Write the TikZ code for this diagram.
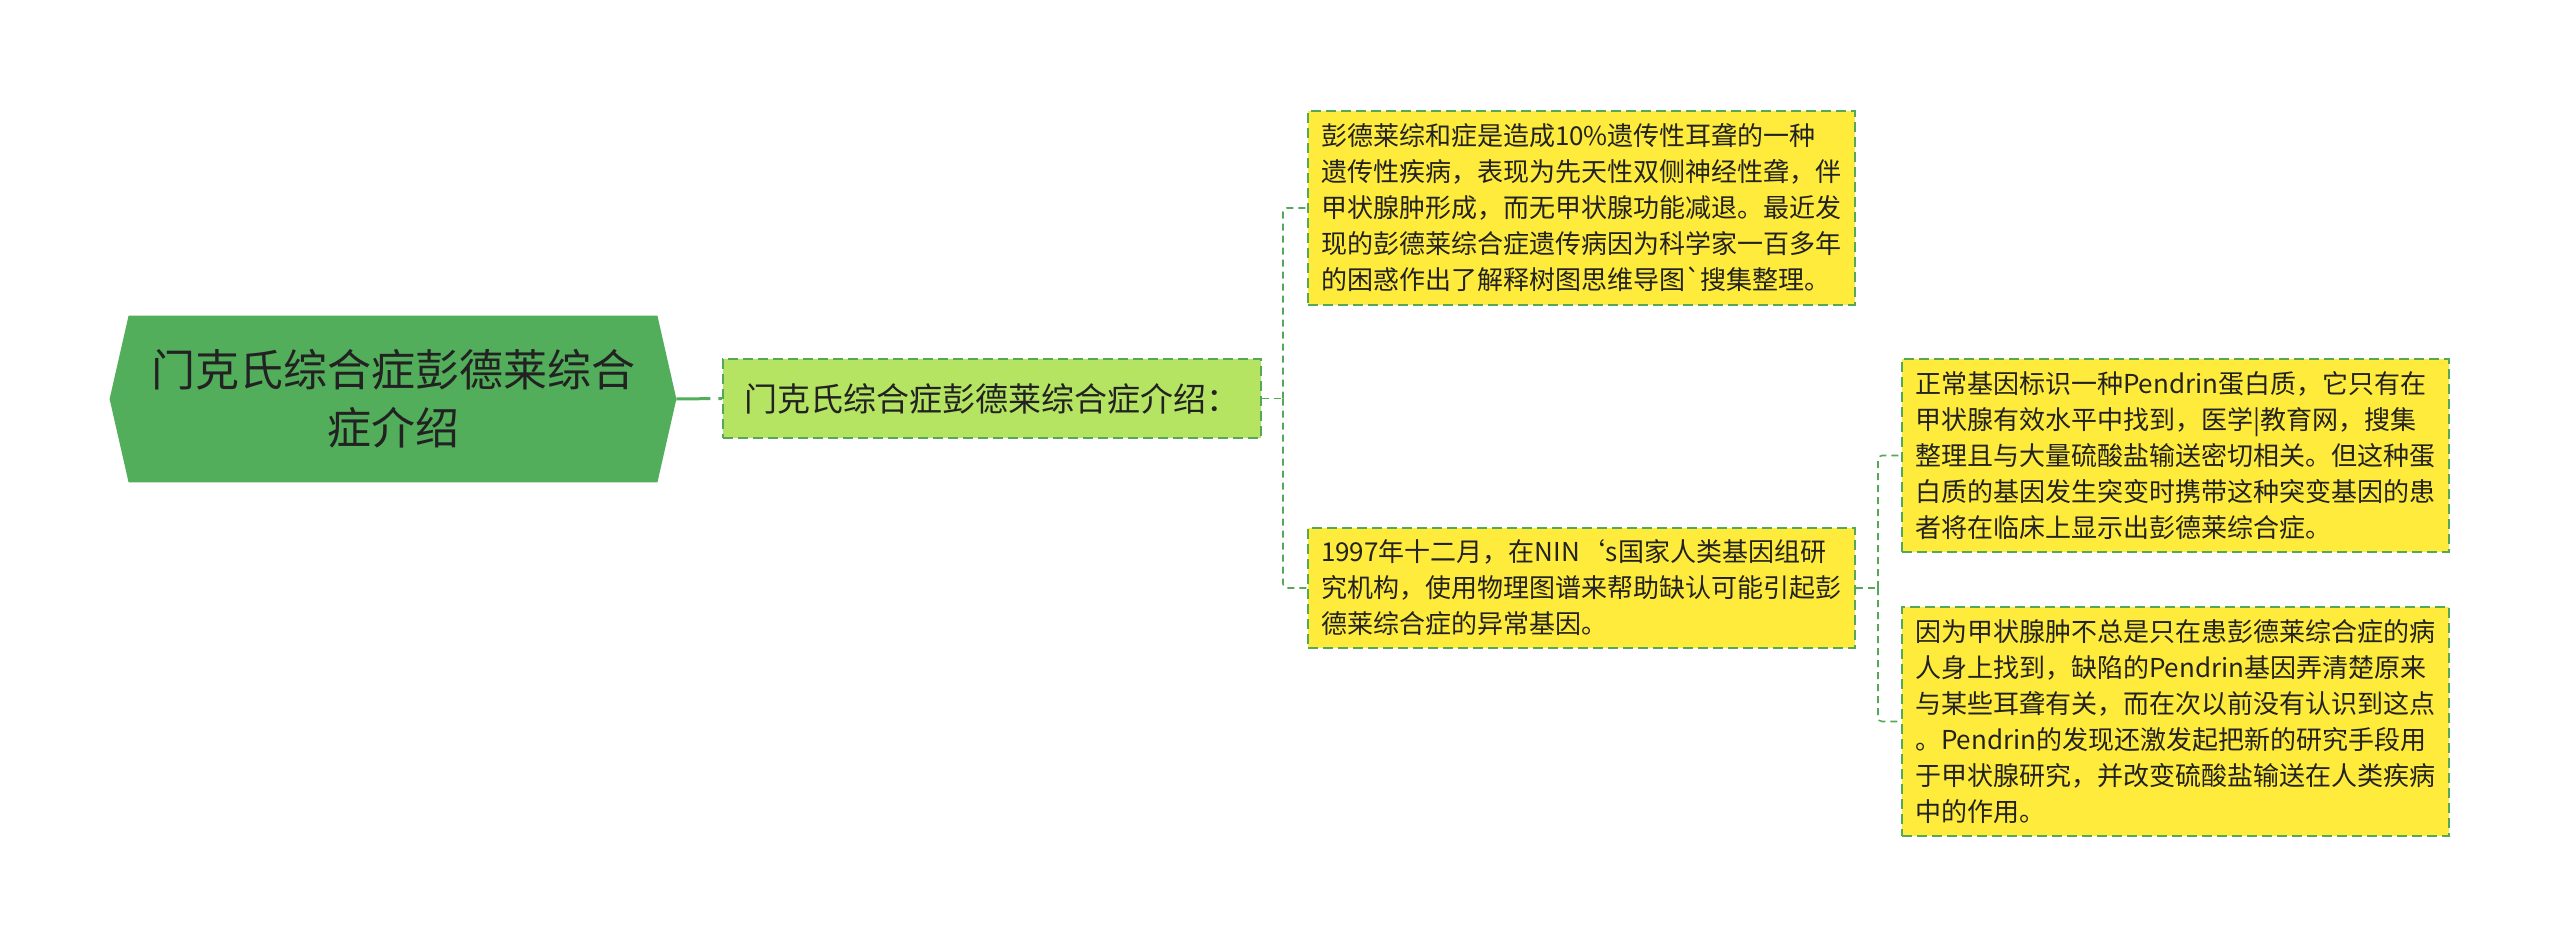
\documentclass[tikz,border=0pt]{standalone}
\usepackage{fontspec}
\setmainfont{Noto Sans CJK SC}
\usetikzlibrary{backgrounds}
\definecolor{mapRootGreen}{RGB}{83,174,91}
\definecolor{mapLimeGreen}{RGB}{181,228,98}
\definecolor{mapYellow}{RGB}{255,235,59}
\definecolor{mapLineGreen}{RGB}{84,168,88}
\definecolor{mapText}{RGB}{34,34,34}

\begin{document}
\begin{tikzpicture}[
  x=0.5pt, y=-0.5pt,
  topic/.style={
    inner sep=0pt,
    minimum width=264pt,
    minimum height=83pt,
    align=center,
    text=mapText,
    font=\fontsize{22pt}{29pt}\selectfont
  },
  subtopic/.style={
    draw=mapLineGreen, fill=mapLimeGreen,
    line width=0.9pt, dash pattern=on 5pt off 2.5pt,
    minimum width=269pt, minimum height=39.5pt,
    inner sep=0pt, text=mapText,
    font=\fontsize{16.5pt}{20pt}\selectfont
  },
  leaf/.style={
    draw=mapLineGreen, fill=mapYellow,
    line width=0.9pt, dash pattern=on 5pt off 2.5pt,
    text width=260.5pt, inner xsep=6.5pt, inner ysep=0pt,
    align=left, text=mapText,
    font=\fontsize{13pt}{18pt}\selectfont
  },
  trunk/.style={mapRootGreen, line width=1.5pt, dash pattern=on 17pt off 4pt},
  link/.style={mapLineGreen, line width=0.8pt, dash pattern=on 3.5pt off 2.5pt, rounded corners=2pt}
]
  \useasboundingbox (0,0) rectangle (2560,947);

  % central topic
  \node[topic] (root) at (393,399)
    {门克氏综合症彭德莱综合\\症介绍};
  \begin{scope}[on background layer]
    \fill[mapRootGreen] (root.north west) -- (root.north east)
      -- ([xshift=9.5pt]root.east) -- (root.south east)
      -- (root.south west) -- ([xshift=-9.5pt]root.west) -- cycle;
  \end{scope}
  \coordinate (rootTip) at ([xshift=9.5pt]root.east);

  \node[subtopic] (intro) at (992,398.5) {门克氏综合症彭德莱综合症介绍：};

  % first level details
  \node[leaf, minimum height=97pt] (cause) at (1581.5,208)
    {彭德莱综和症是造成10\%遗传性耳聋的一种\\
     遗传性疾病，表现为先天性双侧神经性聋，伴\\
     甲状腺肿形成，而无甲状腺功能减退。最近发\\
     现的彭德莱综合症遗传病因为科学家一百多年\\
     的困惑作出了解释树图思维导图\textasciigrave 搜集整理。};
  \node[leaf, minimum height=60pt] (gene) at (1581.5,588)
    {1997年十二月，在NIN‘s国家人类基因组研\\
     究机构，使用物理图谱来帮助缺认可能引起彭\\
     德莱综合症的异常基因。};

  % second level details
  \node[leaf, minimum height=96.5pt] (pendrin) at (2175.5,455.5)
    {正常基因标识一种Pendrin蛋白质，它只有在\\
     甲状腺有效水平中找到，医学|教育网，搜集\\
     整理且与大量硫酸盐输送密切相关。但这种蛋\\
     白质的基因发生突变时携带这种突变基因的患\\
     者将在临床上显示出彭德莱综合症。};
  \node[leaf, minimum height=114.5pt] (goiter) at (2175.5,721.5)
    {因为甲状腺肿不总是只在患彭德莱综合症的病\\
     人身上找到，缺陷的Pendrin基因弄清楚原来\\
     与某些耳聋有关，而在次以前没有认识到这点\\
     。Pendrin的发现还激发起把新的研究手段用\\
     于甲状腺研究，并改变硫酸盐输送在人类疾病\\
     中的作用。};

  % connectors
  \draw[trunk] (rootTip) -- (intro.west);

  \coordinate (forkA) at (1283,398.5);
  \draw[link] (intro.east) -- (forkA);
  \draw[link] (forkA) |- (cause.west);
  \draw[link] (forkA) |- (gene.west);

  \coordinate (forkB) at (1878,588);
  \draw[link] (gene.east) -- (forkB);
  \draw[link] (forkB) |- (pendrin.west);
  \draw[link] (forkB) |- (goiter.west);
\end{tikzpicture}
\end{document}
